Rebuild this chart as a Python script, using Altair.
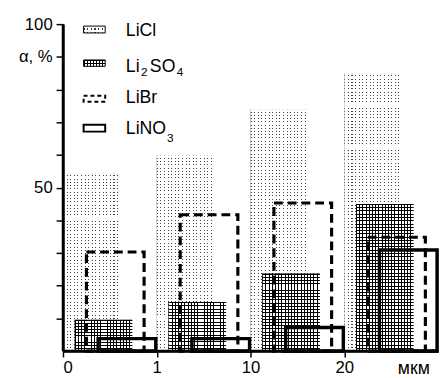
import json
import altair as alt
import pandas as pd

# ---- data ----
groups = [0, 1, 2, 3]
tick_labels = ["0", "1", "10", "20"]
unit_label = "мкм"
series = ["LiCl", "Li2SO4", "LiBr", "LiNO3"]
licl = [54.4, 59.8, 73.9, 85.0]
li2so4 = [9.6, 15.0, 23.7, 45.0]
libr = [30.3, 41.7, 45.3, 34.8]
lino3 = [3.8, 3.8, 7.2, 30.9]

values = {"LiCl": licl, "Li2SO4": li2so4, "LiBr": libr, "LiNO3": lino3}
rows = []
for si, s in enumerate(series):
    for g, v in zip(groups, values[s]):
        rows.append({"series": s, "group": g, "value": v, "si": si})
df = pd.DataFrame(rows)

# ---- layout ----
W, H = 382, 333
STEP, BARW = 0.125, 0.615
FONT = "Liberation Sans"
PXX = 4 / W
PXY = 100 / H

xscale = alt.Scale(domain=[0, 4], nice=False, zero=False)
yscale = alt.Scale(domain=[0, 100], nice=False)


def grad_stops(n, on, c_on, c_off):
    stops = []
    for i in range(n):
        a, b, c = i / n, (i + on) / n, (i + 1) / n
        stops += [{"offset": a, "color": c_on}, {"offset": b, "color": c_on},
                  {"offset": b, "color": c_off}, {"offset": c, "color": c_off}]
    return stops


def vlines(n, on, c_on, c_off):
    return {"gradient": "linear", "x1": 0, "x2": 1, "y1": 0, "y2": 0,
            "stops": grad_stops(n, on, c_on, c_off)}


def hlines(n, on, c_on, c_off):
    return {"gradient": "linear", "x1": 0, "x2": 0, "y1": 0, "y2": 1,
            "stops": grad_stops(n, on, c_on, c_off)}


xaxis = alt.Axis(values=groups, labelExpr=f"{json.dumps(tick_labels)}[datum.value]",
                 title=None, grid=False, zindex=1,
                 domainColor="black", domainWidth=2.5,
                 tickColor="black", tickWidth=1.5, tickSize=6,
                 labelFont=FONT, labelFontSize=17, labelColor="black", labelPadding=3)
yaxis = alt.Axis(values=list(range(10, 101, 10)),
                 labelExpr="datum.value == 100 ? '100' : datum.value == 50 ? '50' : datum.value == 90 ? 'α, %' : ''",
                 title=None, grid=False, zindex=1,
                 domainColor="black", domainWidth=2.5,
                 tickColor="black", tickWidth=1.5, tickSize=7,
                 labelFont=FONT, labelFontSize=17, labelColor="black", labelPadding=4)


def base(filt):
    return (alt.Chart(df)
            .transform_filter(filt)
            .transform_calculate(x0=f"datum.group + {STEP}*datum.si",
                                 x1=f"datum.group + {STEP}*datum.si + {BARW}"))


def enc(ch):
    return ch.encode(
        x=alt.X("x0:Q", scale=xscale, axis=xaxis),
        x2="x1:Q",
        y=alt.Y("value:Q", scale=yscale, axis=yaxis),
        y2=alt.datum(0),
    )


layers = []
# LiCl: dotted texture (gray columns masked by white rows)
for g, v in zip(groups, licl):
    hpx = v * H / 100
    f = f"datum.series == 'LiCl' && datum.group == {g}"
    layers.append(enc(base(f).mark_rect(fill=vlines(16, 0.3, "#444444", "white"))))
    layers.append(enc(base(f).mark_rect(fill=hlines(max(1, round(hpx / 3.3)), 0.7, "white", "rgba(255,255,255,0)"))))
# Li2SO4: grid texture
for g, v in zip(groups, li2so4):
    hpx = v * H / 100
    f = f"datum.series == 'Li2SO4' && datum.group == {g}"
    layers.append(enc(base(f).mark_rect(fill=vlines(18, 0.3, "black", "white"))))
    layers.append(enc(base(f).mark_rect(fill=hlines(max(1, round(hpx / 3.3)), 0.3, "black", "rgba(255,255,255,0)"))))
# LiBr: dashed outline
layers.append(enc(base("datum.series == 'LiBr'").mark_rect(filled=False, stroke="black",
                                                          strokeWidth=3.2, strokeDash=[9, 5])))
# LiNO3: thick outline
layers.append(enc(base("datum.series == 'LiNO3'").mark_rect(filled=False, stroke="black",
                                                           strokeWidth=3.5)))


# ---- legend: same structure as the data layers (field encodings, shared scales) ----
def anchor():
    return alt.Chart(df).transform_filter("datum.si == 0 && datum.group == 0")


def lrect(x1, x2, y1, y2, **kw):
    return (anchor()
            .transform_calculate(lx0=str(x1 * PXX), lx1=str(x2 * PXX),
                                 ly0=str(100 - y1 * PXY), ly1=str(100 - y2 * PXY))
            .mark_rect(**kw)
            .encode(x=alt.X("lx0:Q", scale=xscale, axis=xaxis), x2="lx1:Q",
                    y=alt.Y("ly0:Q", scale=yscale, axis=yaxis), y2="ly1:Q"))


def ltext(txt, x, y, size=18):
    return (anchor()
            .transform_calculate(lx0=str(x * PXX), ly0=str(100 - y * PXY))
            .mark_text(text=txt, align="left", baseline="alphabetic",
                       font=FONT, fontSize=size, color="black")
            .encode(x=alt.X("lx0:Q", scale=xscale, axis=xaxis),
                    y=alt.Y("ly0:Q", scale=yscale, axis=yaxis)))


lx1, lx2 = 21, 43
layers += [
    lrect(lx1, lx2, 2, 9, fill=vlines(6, 0.33, "#3a3a3a", "white")),
    lrect(lx1, lx2, 2, 9, fill=hlines(2, 0.6, "white", "rgba(255,255,255,0)")),
    lrect(lx1, lx2, 2, 9, filled=False, stroke="black", strokeWidth=1),
    lrect(lx1, lx2, 36.5, 43, fill=vlines(7, 0.36, "black", "white")),
    lrect(lx1, lx2, 36.5, 43, fill=hlines(2, 0.36, "black", "rgba(255,255,255,0)")),
    lrect(lx1, lx2, 36.5, 43, filled=False, stroke="black", strokeWidth=1),
    lrect(lx1, lx2, 73, 79, filled=False, stroke="black", strokeWidth=2, strokeDash=[4, 3]),
    lrect(lx1, lx2, 102.5, 109.5, filled=False, stroke="black", strokeWidth=2),
    ltext("LiCl", 64, 12.5),
    ltext("Li", 64, 49),
    ltext("2", 79.5, 53, 12),
    ltext("SO", 88.5, 49),
    ltext("4", 116, 53, 12),
    ltext("LiBr", 64, 80.7),
    ltext("LiNO", 64, 112.3),
    ltext("3", 106, 120, 12),
    ltext(unit_label, 341, 356, 18),
]

# explicit axis lines along the scale domains (in case the axis domain is hidden)
layers += [
    anchor().transform_calculate(ax0="0", ay0="0", ay1="100")
    .mark_rule(color="black", strokeWidth=2.5)
    .encode(x=alt.X("ax0:Q", scale=xscale, axis=xaxis),
            y=alt.Y("ay0:Q", scale=yscale, axis=yaxis), y2="ay1:Q"),
    anchor().transform_calculate(ax0="0", ax1="4", ay0="0")
    .mark_rule(color="black", strokeWidth=2.5)
    .encode(x=alt.X("ax0:Q", scale=xscale, axis=xaxis), x2="ax1:Q",
            y=alt.Y("ay0:Q", scale=yscale, axis=yaxis)),
]

chart = alt.layer(*layers).properties(
    width=W, height=H,
    autosize=alt.AutoSizeParams(type="none"),
    padding={"left": 56, "top": 13, "right": 2, "bottom": 24},
).configure_view(strokeWidth=0)

chart.save("out.html", embed_options={"renderer": "svg", "actions": False})
